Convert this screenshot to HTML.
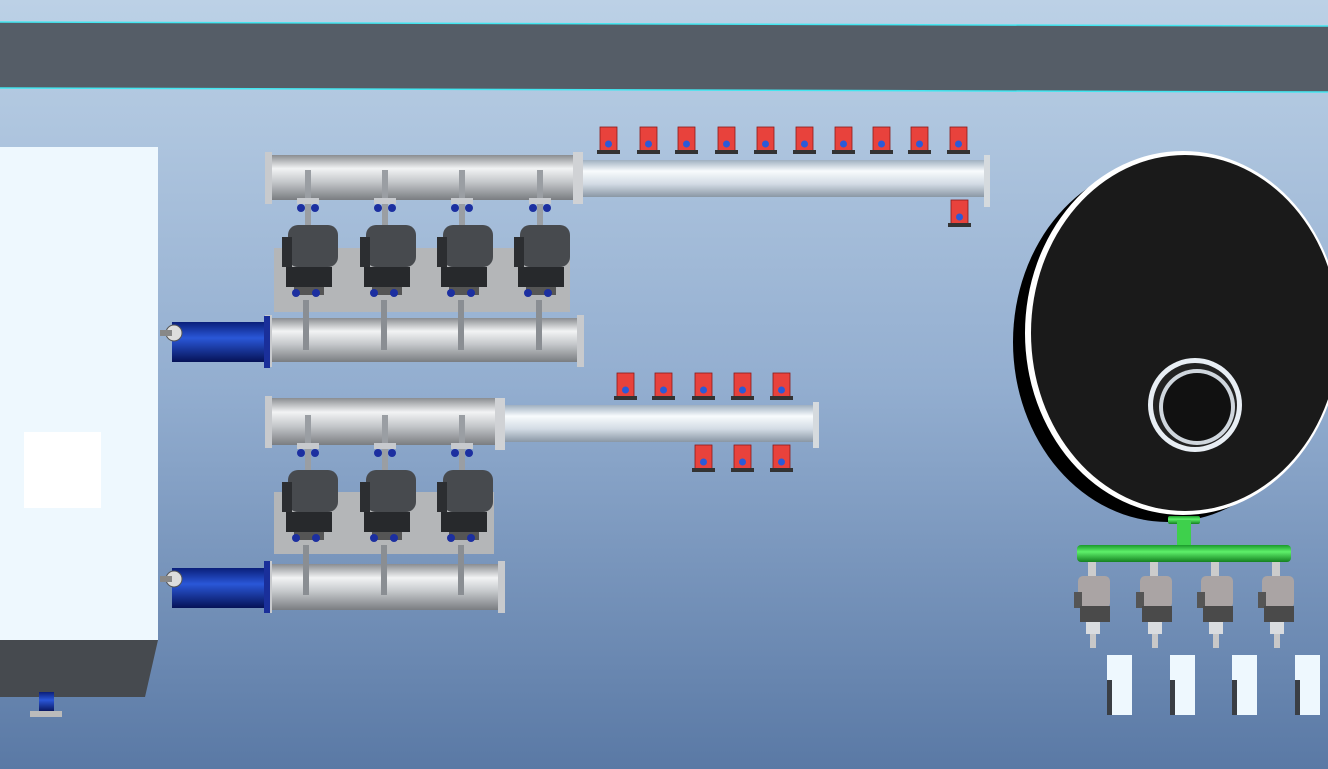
<!DOCTYPE html>
<html><head><meta charset="utf-8"><style>html,body{margin:0;padding:0;width:1328px;height:769px;overflow:hidden}</style></head><body>
<svg width="1328" height="769" viewBox="0 0 1328 769" xmlns="http://www.w3.org/2000/svg">
<defs>
<linearGradient id="bg" x1="0" y1="0" x2="0" y2="1"><stop offset="0" stop-color="#bcd1e6"/><stop offset="0.5" stop-color="#93aed0"/><stop offset="1" stop-color="#5a79a5"/></linearGradient>
<linearGradient id="pipe" x1="0" y1="0" x2="0" y2="1"><stop offset="0" stop-color="#8a8d91"/><stop offset="0.3" stop-color="#f2f3f4"/><stop offset="0.6" stop-color="#c4c7ca"/><stop offset="1" stop-color="#7a7d81"/></linearGradient>
<linearGradient id="pipe2" x1="0" y1="0" x2="0" y2="1"><stop offset="0" stop-color="#9fb0c0"/><stop offset="0.3" stop-color="#f8fbfd"/><stop offset="0.65" stop-color="#d2dbe4"/><stop offset="1" stop-color="#8a97a5"/></linearGradient>
<linearGradient id="blue" x1="0" y1="0" x2="0" y2="1"><stop offset="0" stop-color="#0a1f7a"/><stop offset="0.4" stop-color="#2a57d8"/><stop offset="1" stop-color="#061257"/></linearGradient>
<linearGradient id="green" x1="0" y1="0" x2="0" y2="1"><stop offset="0" stop-color="#1a9a2a"/><stop offset="0.4" stop-color="#5ef06a"/><stop offset="1" stop-color="#148020"/></linearGradient>
<g id="valve"><rect x="0" y="0" width="17" height="24" fill="#e8423c" stroke="#8a1a18" stroke-width="0.8"/><circle cx="8.5" cy="17" r="3.5" fill="#2a5ad8"/><rect x="-3" y="23" width="23" height="4" fill="#333"/></g>
<g id="pump"><rect x="8" y="0" width="50" height="42" rx="10" fill="#474a4e"/><rect x="2" y="12" width="10" height="30" fill="#2c2e31"/><rect x="6" y="42" width="46" height="20" fill="#27292c"/><rect x="14" y="62" width="30" height="8" fill="#555"/><circle cx="16" cy="68" r="4" fill="#1c2fa0"/><circle cx="36" cy="68" r="4" fill="#1c2fa0"/></g>
<g id="stem"><rect x="-3" y="0" width="6" height="60" fill="#9a9ea3"/><rect x="-11" y="28" width="22" height="6" fill="#c7cace"/><circle cx="-7" cy="38" r="4" fill="#1c2fa0"/><circle cx="7" cy="38" r="4" fill="#1c2fa0"/></g>
<g id="spump"><rect x="-2" y="0" width="8" height="14" fill="#ccc"/><rect x="-12" y="14" width="32" height="32" rx="5" fill="#aaa4a4"/><rect x="-16" y="30" width="8" height="16" fill="#555"/><rect x="-10" y="44" width="30" height="16" fill="#4a4a4a"/><rect x="-4" y="60" width="14" height="12" fill="#d9dcdf"/><rect x="0" y="72" width="6" height="14" fill="#c8c8c8"/></g>
</defs>
<rect width="1328" height="769" fill="url(#bg)"/>
<polygon points="0,22 1328,26 1328,92 0,88" fill="#555d67"/>
<line x1="0" y1="22" x2="1328" y2="26" stroke="#43e6f0" stroke-width="1.5"/>
<line x1="0" y1="88" x2="1328" y2="92" stroke="#43e6f0" stroke-width="1.5"/>
<rect x="0" y="147" width="158" height="493" fill="#eef8fe"/>
<polygon points="0,640 158,640 145,697 0,697" fill="#464a4f"/>
<rect x="24" y="432" width="77" height="76" fill="#ffffff"/>
<rect x="39" y="692" width="15" height="20" fill="url(#blue)"/><rect x="30" y="711" width="32" height="6" fill="#bbb"/>
<rect x="274" y="248" width="296" height="64" fill="#b4b6b8"/>
<rect x="268" y="155" width="310" height="45" fill="url(#pipe)"/>
<rect x="580" y="160" width="408" height="37" fill="url(#pipe2)"/>
<rect x="265" y="152" width="7" height="52" fill="#c8cacd"/><rect x="573" y="152" width="10" height="52" fill="#d0d2d5"/><rect x="984" y="155" width="6" height="52" fill="#d5dade"/>
<use href="#stem" x="308" y="170"/><use href="#stem" x="385" y="170"/><use href="#stem" x="462" y="170"/><use href="#stem" x="540" y="170"/>
<use href="#pump" x="280" y="225"/><use href="#pump" x="358" y="225"/><use href="#pump" x="435" y="225"/><use href="#pump" x="512" y="225"/>
<rect x="268" y="318" width="313" height="44" fill="url(#pipe)"/>
<rect x="265" y="315" width="7" height="52" fill="#c8cacd"/><rect x="577" y="315" width="7" height="52" fill="#c8cacd"/>
<rect x="303" y="300" width="6" height="50" fill="#8a8e93"/><rect x="381" y="300" width="6" height="50" fill="#8a8e93"/><rect x="458" y="300" width="6" height="50" fill="#8a8e93"/><rect x="536" y="300" width="6" height="50" fill="#8a8e93"/>
<rect x="172" y="322" width="95" height="40" fill="url(#blue)"/><rect x="264" y="316" width="6" height="52" fill="#1a2f9a"/>
<circle cx="174" cy="333" r="8" fill="#ddd" stroke="#555"/><rect x="160" y="330" width="12" height="6" fill="#888"/>
<rect x="274" y="492" width="220" height="62" fill="#b4b6b8"/>
<rect x="268" y="398" width="232" height="47" fill="url(#pipe)"/>
<rect x="500" y="405" width="316" height="37" fill="url(#pipe2)"/>
<rect x="265" y="396" width="7" height="52" fill="#c8cacd"/><rect x="495" y="398" width="10" height="52" fill="#d0d2d5"/><rect x="813" y="402" width="6" height="46" fill="#d5dade"/>
<use href="#stem" x="308" y="415"/><use href="#stem" x="385" y="415"/><use href="#stem" x="462" y="415"/>
<use href="#pump" x="280" y="470"/><use href="#pump" x="358" y="470"/><use href="#pump" x="435" y="470"/>
<rect x="268" y="564" width="234" height="46" fill="url(#pipe)"/>
<rect x="265" y="561" width="7" height="52" fill="#c8cacd"/><rect x="498" y="561" width="7" height="52" fill="#c8cacd"/>
<rect x="303" y="545" width="6" height="50" fill="#8a8e93"/><rect x="381" y="545" width="6" height="50" fill="#8a8e93"/><rect x="458" y="545" width="6" height="50" fill="#8a8e93"/>
<rect x="172" y="568" width="95" height="40" fill="url(#blue)"/><rect x="264" y="561" width="6" height="52" fill="#1a2f9a"/>
<circle cx="174" cy="579" r="8" fill="#ddd" stroke="#555"/><rect x="160" y="576" width="12" height="6" fill="#888"/>
<use href="#valve" x="600" y="127"/><use href="#valve" x="640" y="127"/><use href="#valve" x="678" y="127"/><use href="#valve" x="718" y="127"/><use href="#valve" x="757" y="127"/><use href="#valve" x="796" y="127"/><use href="#valve" x="835" y="127"/><use href="#valve" x="873" y="127"/><use href="#valve" x="911" y="127"/><use href="#valve" x="950" y="127"/>
<use href="#valve" x="951" y="200"/>
<use href="#valve" x="617" y="373"/><use href="#valve" x="655" y="373"/><use href="#valve" x="695" y="373"/><use href="#valve" x="734" y="373"/><use href="#valve" x="773" y="373"/>
<use href="#valve" x="695" y="445"/><use href="#valve" x="734" y="445"/><use href="#valve" x="773" y="445"/>
<ellipse cx="1168" cy="342" rx="155" ry="180" fill="#000"/>
<ellipse cx="1183" cy="333" rx="158" ry="182" fill="#fff"/>
<ellipse cx="1185" cy="333" rx="154" ry="178" fill="#1a1a1a"/>
<circle cx="1195" cy="405" r="47" fill="#e8eef4"/>
<circle cx="1195" cy="405" r="42" fill="#222"/>
<circle cx="1197" cy="407" r="38" fill="#cfd6dd"/>
<circle cx="1197" cy="407" r="34" fill="#111"/>
<rect x="1168" y="516" width="32" height="8" rx="2" fill="url(#green)"/>
<rect x="1177" y="520" width="14" height="28" fill="#3ed04c"/>
<rect x="1077" y="545" width="214" height="17" rx="4" fill="url(#green)"/>
<use href="#spump" x="1090" y="562"/><use href="#spump" x="1152" y="562"/><use href="#spump" x="1213" y="562"/><use href="#spump" x="1274" y="562"/>
<g fill="#eef8fe"><rect x="1107" y="655" width="25" height="60"/><rect x="1170" y="655" width="25" height="60"/><rect x="1232" y="655" width="25" height="60"/><rect x="1295" y="655" width="25" height="60"/></g>
<g fill="#3a3e44"><rect x="1107" y="680" width="5" height="35"/><rect x="1170" y="680" width="5" height="35"/><rect x="1232" y="680" width="5" height="35"/><rect x="1295" y="680" width="5" height="35"/></g>
</svg>
</body></html>
